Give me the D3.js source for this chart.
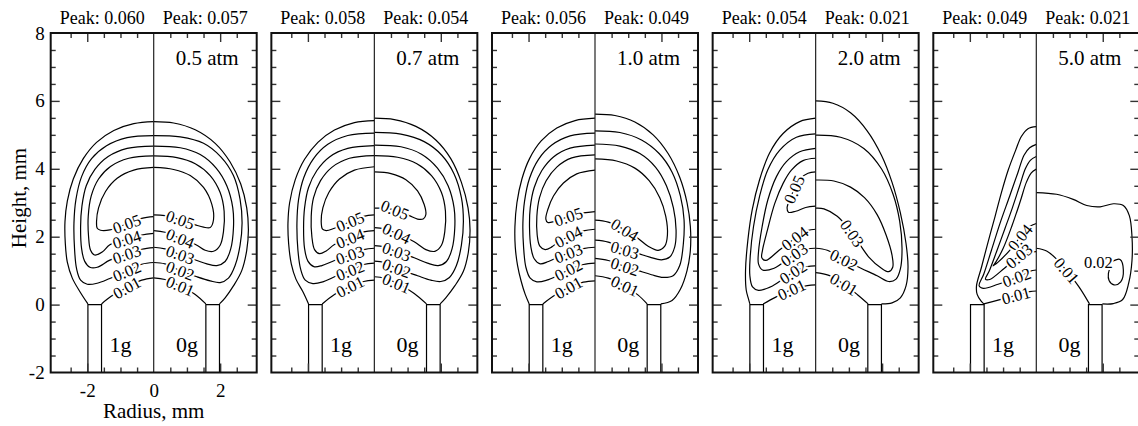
<!DOCTYPE html>
<html><head><meta charset="utf-8">
<script src="https://cdn.jsdelivr.net/npm/d3@7"></script>
<style>
body{margin:0;background:#fff}
text{font-family:"Liberation Serif","Times New Roman",serif;fill:#000}
</style></head>
<body><svg id="c" width="1138" height="426"></svg>
<script>
// ---------------- DATA ----------------
const pressures = ["0.5 atm","0.7 atm","1.0 atm","2.0 atm","5.0 atm"];
const peaks1g = ["0.060","0.058","0.056","0.054","0.049"];
const peaks0g = ["0.057","0.054","0.049","0.021","0.021"];
const sideLabels = ["1g","0g"];
const xTickLabels = [-2,0,2];
const yTickLabels = [-2,0,2,4,6,8];
const tubeInner = 1.57, tubeOuter = 1.98;

// contour pieces: [level, [[r,z],...]]  (r<0: 1g half, r>0: 0g half)
const lines05 = [
 ["0.01",[[0,5.39],[-0.6,5.33],[-1.2,5.13],[-1.72,4.78],[-2.12,4.3],[-2.42,3.7],[-2.6,3.05],[-2.67,2.45],[-2.66,1.8],[-2.6,1.25],[-2.45,0.78],[-2.22,0.38],[-1.98,0.02]]],
 ["0.01",[[-1.57,0.02],[-1.27,0.25],[-0.81,0.5],[-0.36,0.72],[0,0.79]]],
 ["0.02",[[0,4.98],[-0.8,4.92],[-1.42,4.68],[-1.87,4.3],[-2.17,3.77],[-2.34,3.1],[-2.4,2.4],[-2.38,1.6],[-2.32,1.05],[-2.2,0.72],[-2.0,0.6],[-1.7,0.63],[-1.32,0.77],[-0.81,0.98],[-0.36,1.19],[0,1.24]]],
 ["0.03",[[0,4.67],[-0.8,4.6],[-1.37,4.36],[-1.77,3.98],[-2.03,3.5],[-2.16,2.9],[-2.2,2.3],[-2.17,1.65],[-2.08,1.28],[-1.92,1.1],[-1.7,1.1],[-1.32,1.31],[-0.81,1.48],[-0.36,1.63],[0,1.68]]],
 ["0.04",[[0,4.38],[-0.75,4.31],[-1.3,4.07],[-1.66,3.7],[-1.88,3.2],[-1.97,2.6],[-1.96,2.0],[-1.9,1.6],[-1.78,1.46],[-1.55,1.55],[-1.32,1.76],[-0.81,1.92],[-0.36,2.05],[0,2.1]]],
 ["0.05",[[0,4.04],[-0.6,3.96],[-1.1,3.72],[-1.45,3.33],[-1.66,2.85],[-1.72,2.45],[-1.7,2.25],[-1.6,2.19],[-1.32,2.2],[-0.81,2.38],[-0.36,2.54],[0,2.59]]],
 ["0.01",[[0,5.39],[0.6,5.35],[1.25,5.15],[1.85,4.75],[2.3,4.2],[2.62,3.55],[2.8,2.85],[2.85,2.2],[2.8,1.6],[2.65,1.0],[2.4,0.55],[2.15,0.2],[1.98,0.02]]],
 ["0.01",[[0,0.79],[0.34,0.74],[0.8,0.55],[1.25,0.3],[1.57,0.02]]],
 ["0.02",[[0,4.98],[0.8,4.94],[1.5,4.75],[2.02,4.35],[2.4,3.8],[2.6,3.1],[2.66,2.4],[2.6,1.75],[2.45,1.15],[2.25,0.78],[2.0,0.65],[1.7,0.7],[1.3,0.82],[0.8,1.0],[0.34,1.2],[0,1.24]]],
 ["0.03",[[0,4.67],[0.8,4.62],[1.4,4.42],[1.88,4.02],[2.2,3.5],[2.38,2.85],[2.4,2.25],[2.32,1.65],[2.15,1.27],[1.9,1.15],[1.6,1.2],[1.3,1.3],[0.8,1.47],[0.34,1.64],[0,1.69]]],
 ["0.04",[[0,4.38],[0.7,4.33],[1.25,4.15],[1.7,3.8],[2.0,3.3],[2.12,2.75],[2.1,2.15],[2.0,1.75],[1.8,1.57],[1.55,1.6],[1.3,1.75],[0.8,1.95],[0.34,2.13],[0,2.18]]],
 ["0.05",[[0,4.04],[0.6,3.98],[1.1,3.8],[1.5,3.45],[1.75,2.95],[1.8,2.5],[1.7,2.27],[1.5,2.28],[1.25,2.35],[0.8,2.5],[0.34,2.62],[0,2.64]]]
];
const labels05 = [["0.05",-0.81,2.38],["0.04",-0.81,1.92],["0.03",-0.81,1.48],["0.02",-0.81,0.98],["0.01",-0.81,0.5],
 ["0.05",0.8,2.5],["0.04",0.8,1.95],["0.03",0.8,1.47],["0.02",0.8,1.0],["0.01",0.8,0.55]];

const lines07 = [
 ["0.01",[[0,5.42],[-0.6,5.36],[-1.2,5.14],[-1.7,4.78],[-2.1,4.28],[-2.38,3.68],[-2.55,3.0],[-2.6,2.4],[-2.58,1.8],[-2.5,1.2],[-2.36,0.75],[-2.15,0.38],[-1.98,0.02]]],
 ["0.01",[[-1.57,0.02],[-1.2,0.3],[-0.73,0.53],[-0.32,0.68],[0,0.72]]],
 ["0.02",[[0,5.05],[-0.8,4.98],[-1.4,4.72],[-1.83,4.3],[-2.12,3.75],[-2.28,3.1],[-2.33,2.4],[-2.3,1.6],[-2.22,1.05],[-2.08,0.72],[-1.85,0.62],[-1.55,0.67],[-1.2,0.82],[-0.73,1.0],[-0.32,1.18],[0,1.22]]],
 ["0.03",[[0,4.68],[-0.8,4.6],[-1.35,4.35],[-1.73,3.95],[-1.98,3.45],[-2.1,2.85],[-2.13,2.25],[-2.1,1.65],[-2.0,1.28],[-1.82,1.12],[-1.58,1.15],[-1.2,1.3],[-0.73,1.46],[-0.32,1.62],[0,1.66]]],
 ["0.04",[[0,4.39],[-0.75,4.31],[-1.27,4.05],[-1.62,3.65],[-1.83,3.15],[-1.9,2.6],[-1.88,2.0],[-1.8,1.62],[-1.65,1.5],[-1.45,1.58],[-1.2,1.77],[-0.73,1.95],[-0.32,2.14],[0,2.18]]],
 ["0.05",[[0,4.06],[-0.6,3.96],[-1.05,3.7],[-1.37,3.3],[-1.55,2.85],[-1.6,2.45],[-1.56,2.22],[-1.45,2.18],[-1.2,2.25],[-0.73,2.44],[-0.32,2.6],[0,2.64]]],
 ["0.01",[[0,5.49],[0.6,5.45],[1.25,5.25],[1.85,4.85],[2.3,4.3],[2.62,3.6],[2.82,2.85],[2.88,2.2],[2.83,1.55],[2.68,0.98],[2.42,0.55],[2.15,0.2],[1.98,0.02]]],
 ["0.01",[[0,0.82],[0.3,0.78],[0.67,0.63],[1.2,0.33],[1.57,0.02]]],
 ["0.02",[[0,5.07],[0.8,5.02],[1.5,4.8],[2.03,4.4],[2.4,3.85],[2.62,3.15],[2.68,2.45],[2.62,1.75],[2.47,1.15],[2.26,0.8],[2.0,0.68],[1.7,0.72],[1.3,0.85],[0.67,1.07],[0.3,1.24],[0,1.28]]],
 ["0.03",[[0,4.7],[0.8,4.65],[1.42,4.43],[1.9,4.02],[2.22,3.5],[2.4,2.85],[2.42,2.25],[2.34,1.65],[2.17,1.27],[1.92,1.15],[1.6,1.22],[1.2,1.38],[0.67,1.56],[0.3,1.7],[0,1.74]]],
 ["0.04",[[0,4.39],[0.7,4.34],[1.28,4.15],[1.72,3.8],[2.02,3.3],[2.14,2.75],[2.12,2.15],[2.02,1.75],[1.82,1.57],[1.55,1.62],[1.2,1.85],[0.67,2.1],[0.3,2.23],[0,2.27]]],
 ["0.05",[[0,3.91],[0.5,3.86],[0.95,3.68],[1.3,3.35],[1.5,2.95],[1.55,2.65],[1.48,2.53],[1.3,2.52],[1.05,2.62],[0.62,2.79],[0.25,2.84],[0,2.84]]]
];
const labels07 = [["0.05",-0.73,2.44],["0.04",-0.73,1.95],["0.03",-0.73,1.46],["0.02",-0.73,1.0],["0.01",-0.73,0.53],
 ["0.05",0.62,2.79],["0.04",0.67,2.1],["0.03",0.67,1.56],["0.02",0.67,1.07],["0.01",0.67,0.63]];

const lines10 = [
 ["0.01",[[0,5.49],[-0.6,5.42],[-1.15,5.2],[-1.62,4.82],[-1.97,4.3],[-2.2,3.7],[-2.35,3.0],[-2.41,2.3],[-2.4,1.7],[-2.33,1.15],[-2.22,0.68],[-2.1,0.3],[-1.98,0.02]]],
 ["0.01",[[-1.57,0.02],[-1.2,0.28],[-0.8,0.5],[-0.35,0.66],[0,0.7]]],
 ["0.02",[[0,5.05],[-0.75,4.97],[-1.3,4.7],[-1.7,4.28],[-1.97,3.72],[-2.12,3.05],[-2.17,2.4],[-2.15,1.7],[-2.08,1.1],[-1.95,0.78],[-1.75,0.67],[-1.45,0.72],[-1.1,0.87],[-0.8,1.02],[-0.35,1.18],[0,1.22]]],
 ["0.03",[[0,4.7],[-0.75,4.61],[-1.25,4.35],[-1.6,3.95],[-1.83,3.45],[-1.95,2.85],[-1.97,2.25],[-1.93,1.7],[-1.83,1.35],[-1.65,1.2],[-1.4,1.27],[-1.1,1.4],[-0.8,1.51],[-0.35,1.65],[0,1.69]]],
 ["0.04",[[0,4.41],[-0.7,4.32],[-1.15,4.05],[-1.47,3.65],[-1.67,3.15],[-1.75,2.6],[-1.74,2.05],[-1.66,1.72],[-1.5,1.62],[-1.3,1.7],[-1.1,1.85],[-0.8,2.0],[-0.35,2.17],[0,2.22]]],
 ["0.05",[[0,3.96],[-0.55,3.85],[-0.95,3.58],[-1.25,3.2],[-1.42,2.8],[-1.48,2.52],[-1.42,2.42],[-1.22,2.45],[-0.8,2.59],[-0.35,2.7],[0,2.74]]],
 ["0.01",[[0,5.61],[0.6,5.57],[1.2,5.38],[1.75,5.0],[2.2,4.45],[2.55,3.75],[2.77,3.0],[2.87,2.3],[2.87,1.6],[2.77,1.0],[2.57,0.45],[2.32,0.12],[1.98,0.02]]],
 ["0.01",[[0,0.85],[0.4,0.78],[0.9,0.55],[1.3,0.28],[1.57,0.02]]],
 ["0.02",[[0,5.12],[0.75,5.07],[1.4,4.85],[1.93,4.45],[2.32,3.9],[2.57,3.2],[2.68,2.5],[2.66,1.8],[2.55,1.15],[2.35,0.85],[2.05,0.8],[1.7,0.88],[1.3,1.0],[0.9,1.12],[0.4,1.3],[0,1.36]]],
 ["0.03",[[0,4.73],[0.75,4.67],[1.35,4.45],[1.82,4.05],[2.15,3.5],[2.36,2.85],[2.44,2.2],[2.4,1.7],[2.25,1.4],[2.0,1.32],[1.65,1.4],[1.3,1.5],[0.9,1.61],[0.4,1.84],[0,1.9]]],
 ["0.04",[[0,4.29],[0.65,4.23],[1.2,4.02],[1.63,3.65],[1.95,3.15],[2.13,2.6],[2.18,2.05],[2.1,1.72],[1.9,1.6],[1.6,1.72],[1.3,1.95],[0.9,2.2],[0.4,2.43],[0,2.49]]]
];
const labels10 = [["0.05",-0.8,2.59],["0.04",-0.8,2.0],["0.03",-0.8,1.51],["0.02",-0.8,1.02],["0.01",-0.8,0.5],
 ["0.04",0.9,2.2],["0.03",0.9,1.61],["0.02",0.9,1.12],["0.01",0.9,0.55]];

const lines20 = [
 ["0.01",[[0,5.49],[-0.48,5.39],[-0.98,5.04],[-1.39,4.46],[-1.69,3.67],[-1.91,2.79],[-2.04,1.9],[-2.11,1.02],[-2.09,0.43],[-2.02,0.16],[-1.98,0.02]]],
 ["0.01",[[-1.58,0.02],[-1.2,0.22],[-0.72,0.44],[-0.25,0.56],[0,0.58]]],
 ["0.02",[[0,5.03],[-0.58,4.93],[-1.08,4.55],[-1.44,3.97],[-1.69,3.18],[-1.87,2.3],[-1.97,1.41],[-1.98,0.85],[-1.9,0.52],[-1.72,0.42],[-1.3,0.55],[-0.68,0.95],[-0.25,1.12],[0,1.14]]],
 ["0.03",[[0,4.6],[-0.48,4.5],[-0.88,4.21],[-1.18,3.77],[-1.44,3.08],[-1.61,2.3],[-1.72,1.55],[-1.72,1.2],[-1.6,1.02],[-1.25,1.07],[-0.65,1.47],[-0.25,1.64],[0,1.66]]],
 ["0.04",[[0,4.31],[-0.38,4.24],[-0.73,3.96],[-0.98,3.57],[-1.23,2.98],[-1.45,2.2],[-1.6,1.6],[-1.62,1.38],[-1.5,1.3],[-1.1,1.6],[-0.63,1.95],[-0.25,2.18],[0,2.22]]],
 ["0.05",[[0,3.91],[-0.23,3.87],[-0.45,3.72],[-0.62,3.45],[-0.77,3.12],[-0.86,2.85],[-0.82,2.72],[-0.6,2.75],[-0.3,2.86],[0,2.9]]],
 ["0.01",[[0,6.0],[0.52,5.93],[1.05,5.65],[1.55,5.12],[1.98,4.4],[2.3,3.6],[2.55,2.7],[2.72,1.8],[2.78,1.1],[2.72,0.55],[2.55,0.2],[2.3,0.05],[1.98,0.02]]],
 ["0.01",[[0,0.94],[0.4,0.86],[0.85,0.6],[1.25,0.3],[1.58,0.02]]],
 ["0.02",[[0,4.99],[0.75,4.93],[1.45,4.6],[1.98,4.0],[2.33,3.25],[2.53,2.45],[2.6,1.65],[2.55,1.05],[2.42,0.75],[2.2,0.68],[1.85,0.85],[1.35,1.08],[0.85,1.32],[0.35,1.6],[0,1.66]]],
 ["0.03",[[0,3.67],[0.55,3.64],[1.05,3.46],[1.47,3.15],[1.85,2.65],[2.12,2.05],[2.3,1.45],[2.32,1.1],[2.2,0.97],[1.98,1.07],[1.6,1.4],[1.1,2.1],[0.65,2.6],[0.25,2.82],[0,2.84]]]
];
const labels20 = [["0.05",-0.66,3.4],["0.04",-0.63,1.95],["0.03",-0.65,1.47],["0.02",-0.68,0.95],["0.01",-0.72,0.44],
 ["0.03",1.1,2.1],["0.02",0.85,1.32],["0.01",0.85,0.6]];

const lines50 = [
 ["0.01",[[0,5.24],[-0.25,5.18],[-0.45,4.95],[-0.62,4.55],[-0.85,3.95],[-1.05,3.3],[-1.24,2.6],[-1.45,1.85],[-1.65,1.1],[-1.8,0.55],[-1.78,0.3],[-1.66,0.1],[-1.58,0.02]]],
 ["0.01",[[-1.58,0.02],[-1.15,0.13],[-0.61,0.27],[-0.2,0.38],[0,0.4]]],
 ["0.02",[[0,4.72],[-0.2,4.62],[-0.37,4.4],[-0.55,3.9],[-0.8,3.2],[-1.09,2.4],[-1.35,1.6],[-1.58,0.9],[-1.72,0.55],[-1.6,0.48],[-1.15,0.6],[-0.59,0.8],[-0.2,0.98],[0,1.02]]],
 ["0.03",[[0,4.36],[-0.18,4.25],[-0.33,4.0],[-0.5,3.5],[-0.72,2.85],[-0.94,2.25],[-1.2,1.55],[-1.42,0.98],[-1.53,0.75],[-1.4,0.74],[-0.95,1.08],[-0.52,1.43],[-0.2,1.54],[0,1.56]]],
 ["0.04",[[0,3.99],[-0.15,3.88],[-0.3,3.6],[-0.48,3.05],[-0.74,2.3],[-1.0,1.65],[-1.22,1.25],[-1.3,1.14],[-1.15,1.25],[-0.8,1.6],[-0.49,1.98],[-0.2,2.3],[0,2.39]]],
 ["0.01",[[0,3.3],[0.61,3.25],[1.11,3.1],[1.52,2.92],[1.92,2.88],[2.32,2.97],[2.62,2.92],[2.8,2.62],[2.88,2.0],[2.88,1.3],[2.78,0.63],[2.6,0.15],[2.32,0.03],[1.99,0.02]]],
 ["0.01",[[0,1.66],[0.31,1.58],[0.6,1.35],[0.91,1.0],[1.3,0.5],[1.6,0.02]]],
 ["0.02",[[2.27,1.26],[2.52,1.33],[2.62,1.02],[2.54,0.67],[2.34,0.58],[2.19,0.71],[2.17,0.92],[2.24,1.12]]]
];
const labels50 = [["0.04",-0.49,1.98],["0.03",-0.52,1.43],["0.02",-0.59,0.8],["0.01",-0.61,0.27],
 ["0.01",0.91,1.0],["0.02",1.87,1.24]];

const allLines = [lines05, lines07, lines10, lines20, lines50];
const allLabels = [labels05, labels07, labels10, labels20, labels50];

// ---------------- DRAWING ----------------
const svg = d3.select("#c");
const serif = '"Liberation Serif","Times New Roman",serif';

allLines.forEach((lines, i) => {
  const cx = 153.7 + i * 220.65;
  const x = d3.scaleLinear().domain([-3.1, 3.1]).range([cx - 103, cx + 103]);
  const y = d3.scaleLinear().domain([-2, 8]).range([372.5, 33]);
  const g = svg.append("g");

  const line = d3.line().x(d => x(d[0])).y(d => y(d[1])).curve(d3.curveCatmullRom.alpha(0.5));
  g.selectAll("path.ct").data(lines).join("path").attr("class","ct")
    .attr("d", d => line(d[1])).attr("fill","none").attr("stroke","#000").attr("stroke-width",1.2);

  // tubes
  const tube = d3.line().x(d => x(d[0])).y(d => y(d[1]));
  [-1, 1].forEach(s => {
    g.append("path").attr("d", tube([[s*tubeOuter,-2],[s*tubeOuter,0],[s*tubeInner,0],[s*tubeInner,-2]]))
      .attr("fill","none").attr("stroke","#000").attr("stroke-width",1.2);
  });

  // center line
  g.append("line").attr("x1", x(0)).attr("x2", x(0)).attr("y1", y(-2)).attr("y2", y(8))
    .attr("stroke","#222").attr("stroke-width",1.2);

  // contour labels
  const pts = lines.map(([lev, p]) => [lev, p.map(q => [x(q[0]), y(q[1])])]);
  allLabels[i].forEach(([lev, r, z]) => {
    const px = x(r), py = y(z);
    let best = {d: Infinity};
    pts.filter(p => p[0] === lev).forEach(([, p]) => {
      for (let k = 0; k < p.length - 1; k++) {
        const [ax, ay] = p[k], [bx, by] = p[k+1];
        const dx = bx-ax, dy = by-ay, L = dx*dx+dy*dy;
        let t = L ? ((px-ax)*dx + (py-ay)*dy)/L : 0; t = Math.max(0, Math.min(1, t));
        const qx = ax+t*dx, qy = ay+t*dy, dd = Math.hypot(px-qx, py-qy);
        if (dd < best.d) best = {d: dd, x: qx, y: qy, a: Math.atan2(dy, dx)*180/Math.PI};
      }
    });
    let tx = px, ty = py, ang = 0;
    if (best.d < 8) {
      tx = best.x; ty = best.y; ang = best.a;
      if (ang > 90) ang -= 180; if (ang < -90) ang += 180;
    }
    g.append("text").attr("transform", `translate(${tx},${ty}) rotate(${ang})`)
      .attr("text-anchor","middle").attr("dy","0.35em")
      .style("font-size","16.5px").style("paint-order","stroke")
      .attr("stroke","#fff").attr("stroke-width",4).attr("stroke-linejoin","round")
      .text(lev);
  });

  // ticks (inward), minor and major
  const tickStyle = sel => { sel.select(".domain").remove(); sel.selectAll(".tick line").attr("stroke","#333").attr("stroke-width",1.4); };
  const xMinor = d3.range(-2.5, 2.51, 0.5).filter(v => Math.abs(v % 2) > 1e-9 && Math.abs(v) > 1e-9);
  const xMajor = [-2, 2];
  const yMinor = d3.range(-1.5, 7.51, 0.5).filter(v => Math.abs(v % 2) > 1e-9);
  const yMajor = [0, 2, 4, 6];
  [[d3.axisTop, y(8)], [d3.axisBottom, y(-2)]].forEach(([ax, pos]) => {
    g.append("g").attr("transform", `translate(0,${pos})`).call(ax(x).tickValues(xMinor).tickSize(-5).tickFormat("")).call(tickStyle);
    g.append("g").attr("transform", `translate(0,${pos})`).call(ax(x).tickValues(xMajor).tickSize(-9).tickFormat("")).call(tickStyle);
  });
  [[d3.axisLeft, x(-3.1)], [d3.axisRight, x(3.1)]].forEach(([ax, pos]) => {
    g.append("g").attr("transform", `translate(${pos},0)`).call(ax(y).tickValues(yMinor).tickSize(-5).tickFormat("")).call(tickStyle);
    g.append("g").attr("transform", `translate(${pos},0)`).call(ax(y).tickValues(yMajor).tickSize(-9).tickFormat("")).call(tickStyle);
  });

  // frame
  g.append("rect").attr("x", x(-3.1)).attr("y", y(8)).attr("width", x(3.1)-x(-3.1)).attr("height", y(-2)-y(8))
    .attr("fill","none").attr("stroke","#111").attr("stroke-width",2);

  // peak titles
  g.append("text").attr("x", (x(-3.1)+x(0))/2).attr("y", 24).attr("text-anchor","middle").style("font-size","18px").text("Peak: " + peaks1g[i]);
  g.append("text").attr("x", (x(0)+x(3.1))/2).attr("y", 24).attr("text-anchor","middle").style("font-size","18px").text("Peak: " + peaks0g[i]);

  // pressure
  g.append("text").attr("x", x(3.1) - 18).attr("y", 65).attr("text-anchor","end").style("font-size","21px").text(pressures[i]);

  // 1g / 0g
  g.append("text").attr("x", x(-1)).attr("y", y(-1.4)).attr("text-anchor","middle").style("font-size","22px").text(sideLabels[0]);
  g.append("text").attr("x", x(1)).attr("y", y(-1.4)).attr("text-anchor","middle").style("font-size","22px").text(sideLabels[1]);

  if (i === 0) {
    const yl = g.append("g").attr("transform", `translate(${x(-3.1)},0)`)
      .call(d3.axisLeft(y).tickValues(yTickLabels).tickSize(0).tickPadding(6).tickFormat(d => String(d)));
    yl.select(".domain").remove();
    yl.selectAll("text").style("font-size","19px").style("font-family", serif);
    const xl = g.append("g").attr("transform", `translate(0,${y(-2)})`)
      .call(d3.axisBottom(x).tickValues(xTickLabels).tickSize(0).tickPadding(11).tickFormat(d => String(d)));
    xl.select(".domain").remove();
    xl.selectAll("text").style("font-size","19px").style("font-family", serif);
    g.append("text").attr("transform", `translate(26,198) rotate(-90)`).attr("text-anchor","middle").style("font-size","21px").text("Height, mm");
    g.append("text").attr("x", x(0)).attr("y", 418).attr("text-anchor","middle").style("font-size","21px").text("Radius, mm");
  }
});
</script>
</body></html>
